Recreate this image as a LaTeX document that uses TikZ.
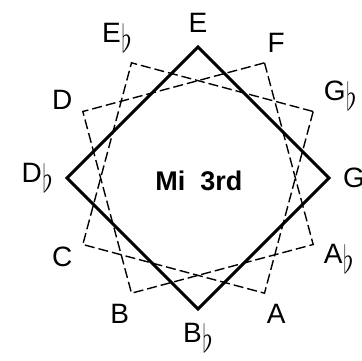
\documentclass[tikz,border=0pt]{standalone}
\usepackage{fontspec}
\setmainfont{Liberation Sans}
\newcommand{\flatsign}{\kern0.02em\raisebox{-0.36em}{\scalebox{1.1}[1.55]{$\flat$}}}

\begin{document}
\begin{tikzpicture}[x=1pt, y=1pt,
    note/.style={inner sep=0pt, font=\fontsize{28}{28}\selectfont},
    major/.style={line width=3pt, line join=miter},
    minor/.style={line width=1.4pt, dash pattern=on 10pt off 4pt}
  ]
  \useasboundingbox (-198,-182) rectangle (164,178);

  % twelve notes round the circle
  \foreach \n/\a/\t in {0/90/E, 1/60/F, 2/30/G\flatsign, 3/0/G, 4/-30/A\flatsign, 5/-60/A,
                        6/-90/B\flatsign, 7/-120/B, 8/-150/C, 9/180/D\flatsign, 10/150/D, 11/120/E\flatsign} {
    \pgfmathsetmacro\anc{mod(\a+180,360)}
    \pgfmathsetmacro\rad{ifthenelse(mod(\n,3)==0,131,133)}
    \coordinate (v\n) at (\a:\rad);
    \node[note, anchor=\anc] (l\n) at (\a:145) {\t};
  }

  \draw[major] (v0) -- (v3) -- (v6) -- (v9) -- cycle;
  \draw[minor] (v1) -- (v4) -- (v7) -- (v10) -- cycle;
  \draw[minor] (v2) -- (v5) -- (v8) -- (v11) -- cycle;

  \node[font=\bfseries\fontsize{27}{27}\selectfont] (title) at (1,-3) {Mi\ \ 3rd};
\end{tikzpicture}
\end{document}
